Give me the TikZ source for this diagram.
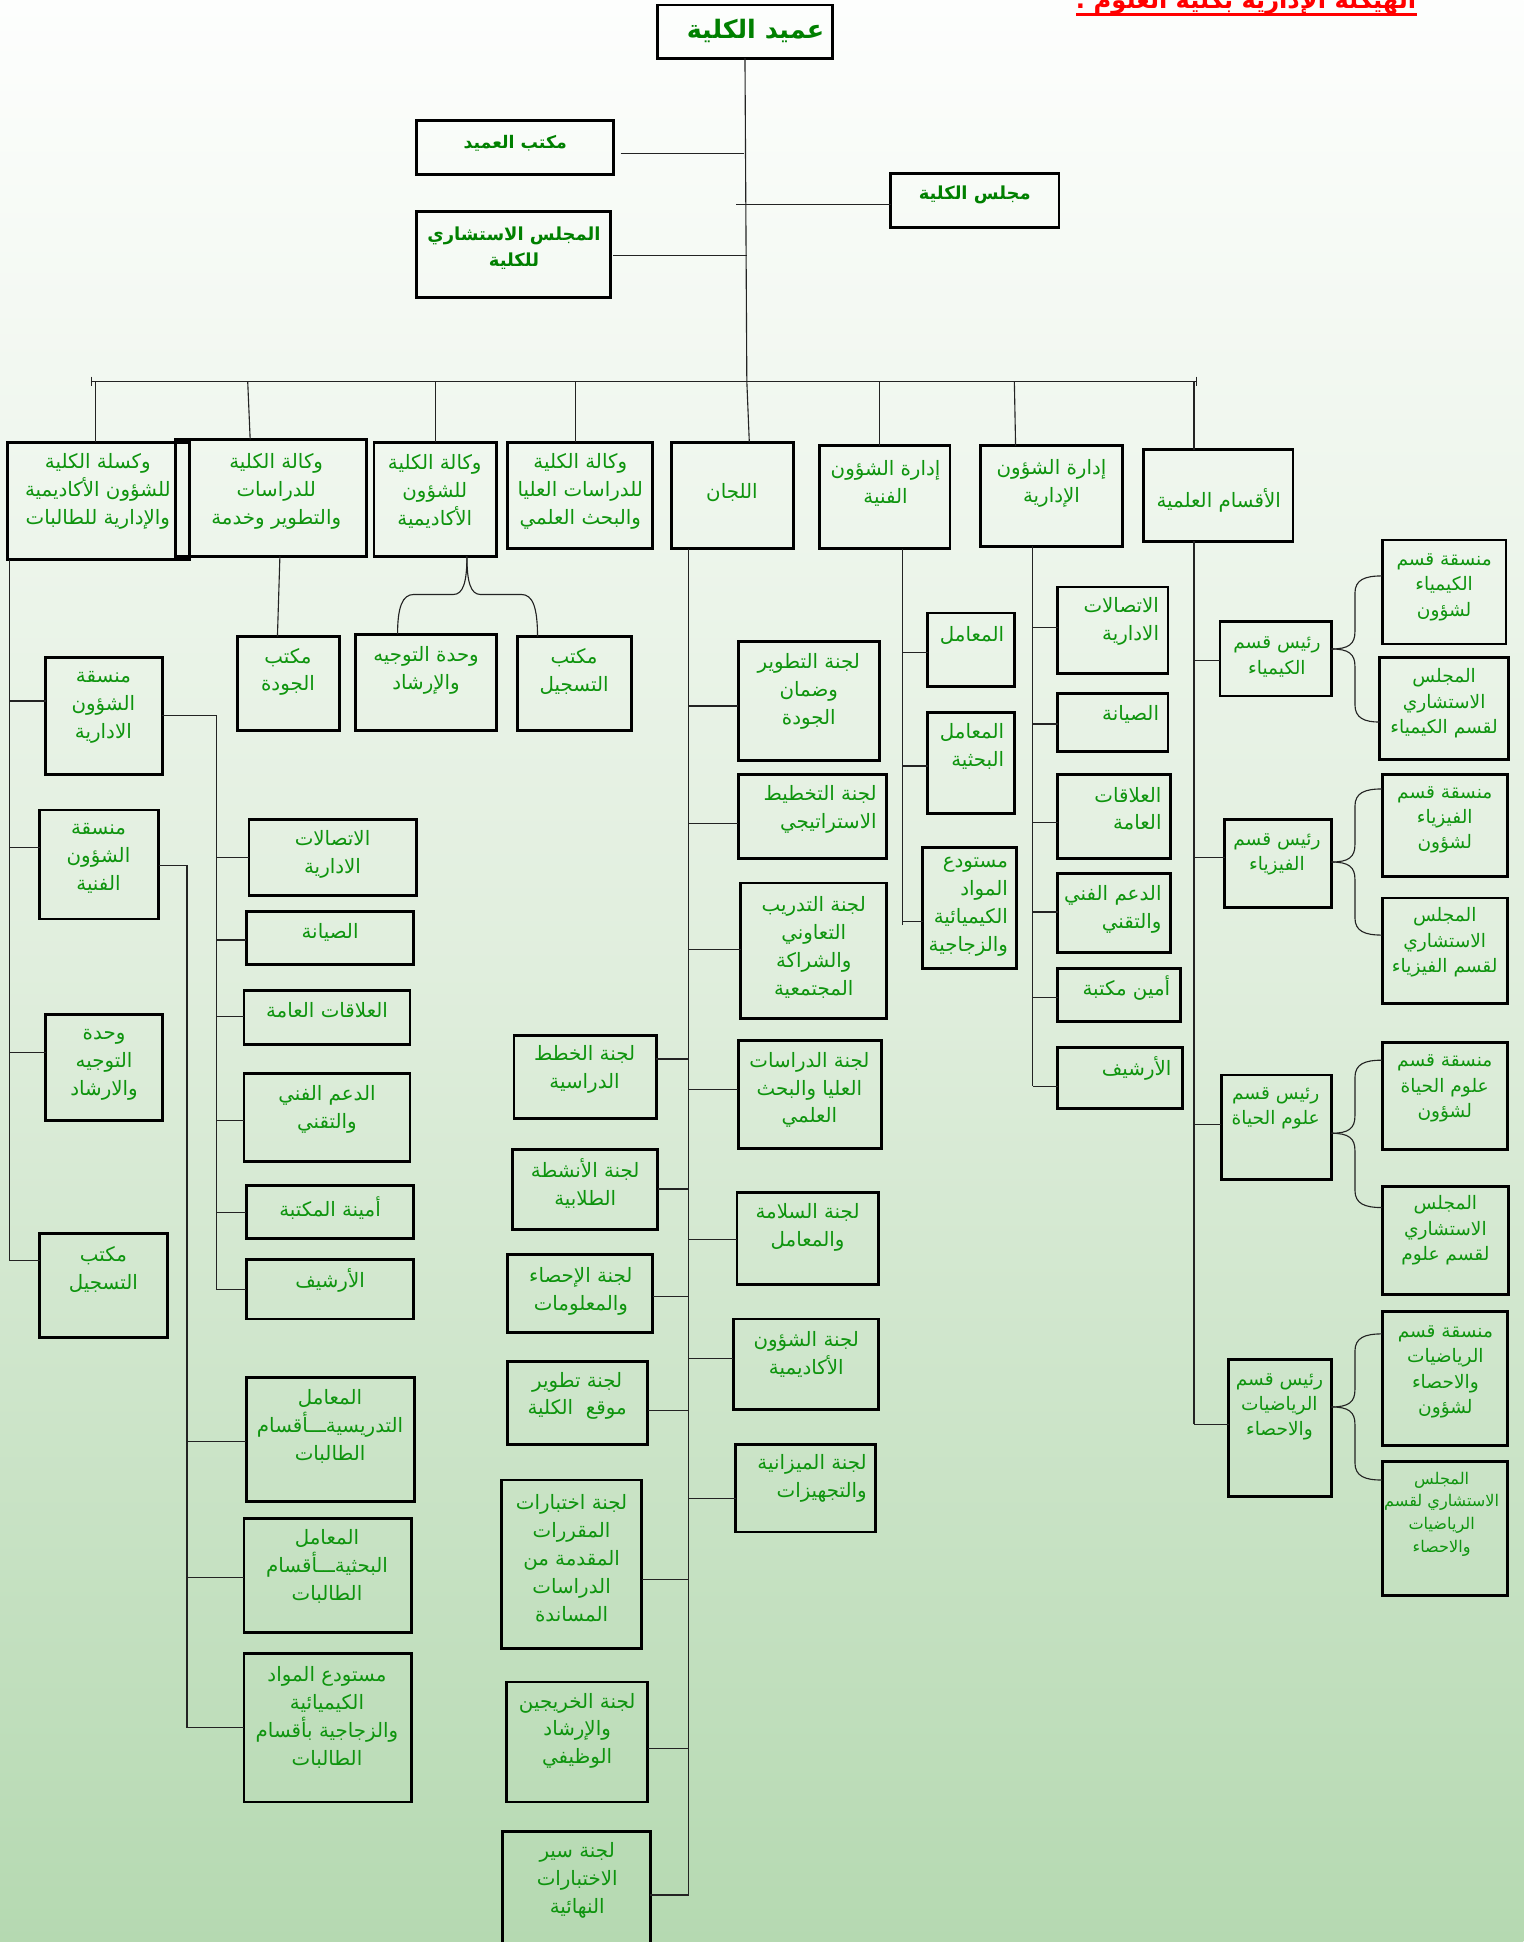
\documentclass[tikz,border=0pt]{standalone}
\usepackage{fontspec}
\newfontfamily\arabicfont[Script=Arabic]{DejaVu Sans}
\TeXXeTstate=1
\newcommand\arl[1]{\beginR#1\endR}
\definecolor{tgreen}{RGB}{14,148,14}
\definecolor{bgreen}{RGB}{0,128,0}
\definecolor{lncol}{RGB}{35,35,35}
\definecolor{bgtop}{RGB}{253,254,253}
\definecolor{bgmid}{RGB}{224,238,221}
\definecolor{bgbot}{RGB}{181,217,177}
\newcommand\bx[5]{\node[bx,minimum width={#4-#2},minimum height={#5-#3}] (#1) at ({(#2+#4)/2},{(#3+#5)/2}) {};}
\newcommand\br[3]{\draw[ln] (#1 |- 0,#3) -- (#2 |- 0,#3);}
\newcommand\dbrace[6]{%
\draw[ln] (#1.east |- 0,#2) .. controls (1089,{#2}) and (1094,{#2-4}) .. (1094,{#2-14}) -- (1094,{#4+14}) .. controls (1094,{#4+3}) and (1102,{#4}) .. (#3.west |- 0,#4);
\draw[ln] (#1.east |- 0,#2) .. controls (1089,{#2}) and (1094,{#2+4}) .. (1094,{#2+14}) -- (1094,{#6-14}) .. controls (1094,{#6-3}) and (1102,{#6}) .. (#5.west |- 0,#6);}
\begin{document}
\begin{tikzpicture}[x=1pt,y=-1pt,
  bx/.style={draw=black,line width=2.3pt,inner sep=0pt,outer sep=0pt},
  ln/.style={draw=lncol,line width=0.9pt},
  txt/.style={font=\arabicfont\fontsize{16}{22.5}\selectfont,text=tgreen,align=center,inner sep=0pt},
  txtr/.style={txt,align=right,anchor=east},
  txts/.style={txt,font=\arabicfont\fontsize{15}{20.5}\selectfont},
  txtxs/.style={txt,font=\arabicfont\fontsize{13}{18.3}\selectfont},
  tbold/.style={font=\arabicfont\bfseries\fontsize{14.5}{21}\selectfont,text=bgreen,align=center,inner sep=0pt},
  tbig/.style={tbold,font=\arabicfont\bfseries\fontsize{20.5}{26}\selectfont},
  ttl/.style={font=\arabicfont\bfseries\fontsize{19.5}{24}\selectfont,text=red,inner sep=0pt}]
\useasboundingbox (0,0) rectangle (1230,1568);
\shade[top color=bgtop,bottom color=bgbot,middle color=bgmid] (0,0) rectangle (1230,1568);

% title
\node[ttl,anchor=base] (title) at (1006,6.5) {\arl{الهيكلة الإدارية بكلية العلوم :}};
\coordinate (ulA) at (869,12);
\coordinate (ulB) at (1144,12);
\draw[red,line width=2.2pt] (ulA) -- (ulB);

% top level
\bx{dean}{531}{4}{672}{47}
\node[tbig] (dean-t) at (610,25) {\arl{عميد الكلية}};
\bx{office}{336}{97}{495}{141}
\node[tbold,font=\arabicfont\bfseries\fontsize{14}{21}\selectfont] (office-t) at (416,116) {\arl{مكتب العميد}};
\bx{council}{719}{140}{855}{184}
\node[tbold] (council-t) at (787,157) {\arl{مجلس الكلية}};
\bx{advis}{336}{171}{493}{240}
\node[tbold] (advis-t) at (415,200) {\arl{المجلس الاستشاري}\\\arl{للكلية}};

\coordinate (trunk) at (603,308);
\coordinate (j1) at (601,124);
\coordinate (j2) at (594,165);
\coordinate (j3) at (603,206);
\draw[ln] (dean.south) -- (trunk);
\draw[ln] (office.east |- j1) ++(6,0) -- (j1);
\draw[ln] (council.west |- j2) -- (j2);
\draw[ln] (advis.east |- j3) ++(2,0) -- (j3);

% bus
\coordinate (busL) at (74,308);
\coordinate (busR) at (966,308);
\draw[ln] (busL) -- (busR);
\draw[ln] (busL) ++(0,-4) -- ++(0,8);
\draw[ln] (busR) ++(0,-4) -- ++(0,8);

% level 1 boxes
\bx{b1}{6}{357}{153}{452}
\bx{b2}{142}{355}{296}{449}
\bx{b3}{302}{357}{401}{449}
\bx{b4}{410}{357}{527}{443}
\bx{lj}{542}{357}{641}{443}
\bx{b6}{662}{360}{767}{443}
\bx{b7}{792}{360}{906}{441}
\bx{b8}{923}{363}{1044}{437}
\node[txt] (b1-t) at (79,397) {\arl{وكسلة الكلية}\\\arl{للشؤون الأكاديمية}\\\arl{والإدارية للطالبات}};
\node[txt] (b2-t) at (223,397) {\arl{وكالة الكلية}\\\arl{للدراسات}\\\arl{والتطوير وخدمة}};
\node[txt] (b3-t) at (351,397) {\arl{وكالة الكلية}\\\arl{للشؤون}\\\arl{الأكاديمية}};
\node[txt] (b4-t) at (468.5,397) {\arl{وكالة الكلية}\\\arl{للدراسات العليا}\\\arl{والبحث العلمي}};
\node[txt] (lj-t) at (591,398) {\arl{اللجان}};
\node[txt] (b6-t) at (715,390) {\arl{إدارة الشؤون}\\\arl{الفنية}};
\node[txt] (b7-t) at (849,390) {\arl{إدارة الشؤون}\\\arl{الإدارية}};
\node[txt] (b8-t) at (984,404) {\arl{الأقسام العلمية}};

\draw[ln] (busL -| 77,0) -- (b1.north -| 77,0);
\draw[ln] (busL -| 200,0) -- (b2.north -| 202,0);
\draw[ln] (busL -| 351.5,0) -- (b3.north -| 351.5,0);
\draw[ln] (busL -| 465,0) -- (b4.north -| 465,0);
\draw[ln] (trunk) -- (lj.north -| 605,0);
\draw[ln] (busL -| 710,0) -- (b6.north -| 710,0);
\draw[ln] (busL -| 819,0) -- (b7.north -| 820,0);
\draw[ln] (busR -| 964,0) -- (b8.north -| 964,0);

% level 2 under b2, b3
\bx{q1}{192}{514}{274}{590}
\bx{g1}{287}{512}{401}{590}
\bx{g2}{418}{514}{510}{590}
\node[txt] (q1-t) at (232.5,542.5) {\arl{مكتب}\\\arl{الجودة}};
\node[txt] (g1-t) at (344,541) {\arl{وحدة التوجيه}\\\arl{والإرشاد}};
\node[txt] (g2-t) at (463.5,542.5) {\arl{مكتب}\\\arl{التسجيل}};
\draw[ln] (b2.south -| 226,0) -- (q1.north -| 224,0);
\coordinate (bv) at (377,449);
\draw[ln] (bv) .. controls (377,470) and (374,480) .. (366,480) -- (334,480) .. controls (325,480) and (321,490) .. (g1.north -| 321,0);
\draw[ln] (bv) .. controls (377,470) and (380,480) .. (388,480) -- (421,480) .. controls (430,480) and (434,490) .. (g2.north -| 434,0);

% left column (b1)
\bx{m1}{37}{531}{131}{625}
\bx{m2}{32}{654}{128}{742}
\bx{m3}{37}{819}{131}{905}
\bx{m4}{32}{996}{135}{1080}
\node[txt] (m1-t) at (83.5,571) {\arl{منسقة}\\\arl{الشؤون}\\\arl{الادارية}};
\node[txt] (m2-t) at (79.5,693) {\arl{منسقة}\\\arl{الشؤون}\\\arl{الفنية}};
\node[txt] (m3-t) at (84,859.5) {\arl{وحدة}\\\arl{التوجيه}\\\arl{والارشاد}};
\node[txt] (m4-t) at (83.5,1025) {\arl{مكتب}\\\arl{التسجيل}};
\coordinate (vL) at (8,452);
\draw[ln] (b1.south -| vL) -- (vL |- 0,1018);
\br{vL}{m1.west}{566}
\br{vL}{m2.west}{684}
\br{vL}{m3.west}{850}
\br{vL}{m4.west}{1018}

\bx{a1}{201}{662}{336}{723}
\bx{a2}{199}{736}{334}{779}
\bx{a3}{197}{800}{331}{843}
\bx{a4}{197}{867}{331}{938}
\bx{a5}{199}{957}{334}{1000}
\bx{a6}{199}{1017}{334}{1065}
\node[txt] (a1-t) at (268.5,690) {\arl{الاتصالات}\\\arl{الادارية}};
\node[txt] (a2-t) at (266.5,753) {\arl{الصيانة}};
\node[txt] (a3-t) at (264,816) {\arl{العلاقات العامة}};
\node[txt] (a4-t) at (264,896) {\arl{الدعم الفني}\\\arl{والتقني}};
\node[txt] (a5-t) at (266.5,975) {\arl{أمينة المكتبة}};
\node[txt] (a6-t) at (266.5,1034) {\arl{الأرشيف}};
\coordinate (vA) at (175,578);
\draw[ln] (m1.east |- vA) -- (vA) -- (vA |- 0,1041) -- (a6.west |- 0,1041);
\br{vA}{a1.west}{692}
\br{vA}{a2.west}{759}
\br{vA}{a3.west}{820.5}
\br{vA}{a4.west}{904.5}
\br{vA}{a5.west}{979}

\bx{t1}{199}{1112}{335}{1212}
\bx{t2}{197}{1226}{332}{1318}
\bx{t3}{197}{1335}{332}{1455}
\node[txt] (t1-t) at (266.5,1151.5) {\arl{المعامل}\\\arl{التدريسيةـــأقسام}\\\arl{الطالبات}};
\node[txt] (t2-t) at (264,1265) {\arl{المعامل}\\\arl{البحثيةـــأقسام}\\\arl{الطالبات}};
\node[txt] (t3-t) at (264,1386.5) {\arl{مستودع المواد}\\\arl{الكيميائية}\\\arl{والزجاجية بأقسام}\\\arl{الطالبات}};
\coordinate (vT) at (151,698.6);
\draw[ln] (m2.east |- vT) -- (vT) -- (vT |- 0,1395) -- (t3.west |- 0,1395);
\br{vT}{t1.west}{1164}
\br{vT}{t2.west}{1274}

% committees
\bx{cr1}{596}{518}{710}{614}
\bx{cr2}{596}{625}{716}{693}
\bx{cr3}{598}{713}{716}{822}
\bx{cr4}{596}{840}{712}{927}
\bx{cr5}{595}{963}{709}{1037}
\bx{cr6}{592}{1065}{709}{1138}
\bx{cr7}{594}{1166}{707}{1237}
\bx{cl1}{415}{836}{530}{903}
\bx{cl2}{414}{928}{531}{993}
\bx{cl3}{410}{1013}{527}{1076}
\bx{cl4}{410}{1099}{523}{1166}
\bx{cl5}{405}{1195}{518}{1331}
\bx{cl6}{409}{1358}{523}{1455}
\bx{cl7}{406}{1479}{525}{1590}
\node[txt] (cr1-t) at (653,558.5) {\arl{لجنة التطوير}\\\arl{وضمان}\\\arl{الجودة}};
\node[txtr] (cr2-t) at (708,653.5) {\arl{لجنة التخطيط}\\\arl{الاستراتيجي}};
\node[txt] (cr3-t) at (657,765) {\arl{لجنة التدريب}\\\arl{التعاوني}\\\arl{والشراكة}\\\arl{المجتمعية}};
\node[txt] (cr4-t) at (653.5,880) {\arl{لجنة الدراسات}\\\arl{العليا والبحث}\\\arl{العلمي}};
\node[txt] (cr5-t) at (652,991) {\arl{لجنة السلامة}\\\arl{والمعامل}};
\node[txt] (cr6-t) at (651,1093.5) {\arl{لجنة الشؤون}\\\arl{الأكاديمية}};
\node[txtr] (cr7-t) at (700,1194) {\arl{لجنة الميزانية}\\\arl{والتجهيزات}};
\node[txt] (cl1-t) at (472,863.5) {\arl{لجنة الخطط}\\\arl{الدراسية}};
\node[txt] (cl2-t) at (472.5,955.5) {\arl{لجنة الأنشطة}\\\arl{الطلابية}};
\node[txt] (cl3-t) at (469,1042.5) {\arl{لجنة الإحصاء}\\\arl{والمعلومات}};
\node[txt] (cl4-t) at (466,1127) {\arl{لجنة تطوير}\\\arl{موقع~~الكلية}};
\node[txt] (cl5-t) at (461.5,1258) {\arl{لجنة اختبارات}\\\arl{المقررات}\\\arl{المقدمة من}\\\arl{الدراسات}\\\arl{المساندة}};
\node[txt] (cl6-t) at (466,1397.5) {\arl{لجنة الخريجين}\\\arl{والإرشاد}\\\arl{الوظيفي}};
\node[txt] (cl7-t) at (466,1518) {\arl{لجنة سير}\\\arl{الاختبارات}\\\arl{النهائية}};
\coordinate (vC) at (556,443);
\draw[ln] (lj.south -| vC) -- (vC |- 0,1530);
\br{vC}{cr1.west}{570}
\br{vC}{cr2.west}{665}
\br{vC}{cr3.west}{766.5}
\br{vC}{cr4.west}{880}
\br{vC}{cr5.west}{1001}
\br{vC}{cr6.west}{1097}
\br{vC}{cr7.west}{1209.6}
\br{vC}{cl1.east}{855}
\br{vC}{cl2.east}{960}
\br{vC}{cl3.east}{1046.5}
\br{vC}{cl4.east}{1138.5}
\br{vC}{cl5.east}{1275}
\br{vC}{cl6.east}{1411.5}
\br{vC}{cl7.east}{1530}

% technical affairs
\bx{f1}{749}{495}{819}{554}
\bx{f2}{749}{575}{819}{657}
\bx{f3}{745}{684}{821}{782}
\node[txtr] (f1-t) at (811,513) {\arl{المعامل}};
\node[txtr] (f2-t) at (811,603) {\arl{المعامل}\\\arl{البحثية}};
\node[txtr] (f3-t) at (814,732) {\arl{مستودع}\\\arl{المواد}\\\arl{الكيميائية}\\\arl{والزجاجية}};
\coordinate (vF) at (729,443);
\draw[ln] (b6.south -| vF) -- (vF |- 0,747);
\br{vF}{f1.west}{527}
\br{vF}{f2.west}{618.5}
\br{vF}{f3.west}{744}

% administrative affairs
\bx{d1}{854}{474}{943}{544}
\bx{d2}{854}{560}{943}{607}
\bx{d3}{854}{625}{945}{693}
\bx{d4}{854}{705}{945}{769}
\bx{d5}{854}{782}{953}{825}
\bx{d6}{854}{846}{955}{895}
\node[txtr] (d1-t) at (936,502) {\arl{الاتصالات}\\\arl{الادارية}};
\node[txtr] (d2-t) at (936,577) {\arl{الصيانة}};
\node[txtr] (d3-t) at (938,653) {\arl{العلاقات}\\\arl{العامة}};
\node[txtr] (d4-t) at (938,734) {\arl{الدعم الفني}\\\arl{والتقني}};
\node[txtr] (d5-t) at (945,798) {\arl{أمين مكتبة}};
\node[txtr] (d6-t) at (946,863) {\arl{الأرشيف}};
\coordinate (vD) at (834,441);
\draw[ln] (b7.south -| vD) -- (vD |- 0,877);
\br{vD}{d1.west}{506.6}
\br{vD}{d2.west}{584.6}
\br{vD}{d3.west}{663.8}
\br{vD}{d4.west}{736.4}
\br{vD}{d5.west}{805.7}
\br{vD}{d6.west}{877}

% science departments
\bx{s1}{985}{502}{1075}{562}
\bx{s1a}{1116}{436}{1216}{520}
\bx{s1b}{1114}{531}{1218}{613}
\bx{s2}{989}{662}{1075}{733}
\bx{s2a}{1116}{625}{1217}{708}
\bx{s2b}{1116}{725}{1217}{810}
\bx{s3}{986}{868}{1075}{952}
\bx{s3a}{1116}{842}{1217}{928}
\bx{s3b}{1116}{958}{1218}{1045}
\bx{s4}{992}{1098}{1075}{1208}
\bx{s4a}{1116}{1059}{1217}{1167}
\bx{s4b}{1116}{1180}{1217}{1288}
\node[txts] (s1-t) at (1031,530.5) {\arl{رئيس قسم}\\\arl{الكيمياء}};
\node[txts] (s1a-t) at (1166,474) {\arl{منسقة قسم}\\\arl{الكيمياء}\\\arl{لشؤون}};
\node[txts] (s1b-t) at (1166,568) {\arl{المجلس}\\\arl{الاستشاري}\\\arl{لقسم الكيمياء}};
\node[txts] (s2-t) at (1031,690) {\arl{رئيس قسم}\\\arl{الفيزياء}};
\node[txts] (s2a-t) at (1166.5,662) {\arl{منسقة قسم}\\\arl{الفيزياء}\\\arl{لشؤون}};
\node[txts] (s2b-t) at (1166.5,761) {\arl{المجلس}\\\arl{الاستشاري}\\\arl{لقسم الفيزياء}};
\node[txts] (s3-t) at (1030,895) {\arl{رئيس قسم}\\\arl{علوم الحياة}};
\node[txts] (s3a-t) at (1166.5,879) {\arl{منسقة قسم}\\\arl{علوم الحياة}\\\arl{لشؤون}};
\node[txts] (s3b-t) at (1167,993.5) {\arl{المجلس}\\\arl{الاستشاري}\\\arl{لقسم علوم}};
\node[txts] (s4-t) at (1033,1136) {\arl{رئيس قسم}\\\arl{الرياضيات}\\\arl{والاحصاء}};
\node[txts] (s4a-t) at (1167,1107.5) {\arl{منسقة قسم}\\\arl{الرياضيات}\\\arl{والاحصاء}\\\arl{لشؤون}};
\node[txtxs] (s4b-t) at (1164,1222.5) {\arl{المجلس}\\\arl{الاستشاري لقسم}\\\arl{الرياضيات}\\\arl{والاحصاء}};
\coordinate (vS) at (964,437);
\draw[ln] (b8.south -| vS) -- (vS |- 0,1150);
\br{vS}{s1.west}{533}
\br{vS}{s2.west}{692}
\br{vS}{s3.west}{908}
\br{vS}{s4.west}{1150}
\dbrace{s1}{524}{s1a}{465}{s1b}{583}
\dbrace{s2}{696}{s2a}{637}{s2b}{755}
\dbrace{s3}{915}{s3a}{856}{s3b}{975}
\dbrace{s4}{1136}{s4a}{1077}{s4b}{1195}
\end{tikzpicture}
\end{document}
